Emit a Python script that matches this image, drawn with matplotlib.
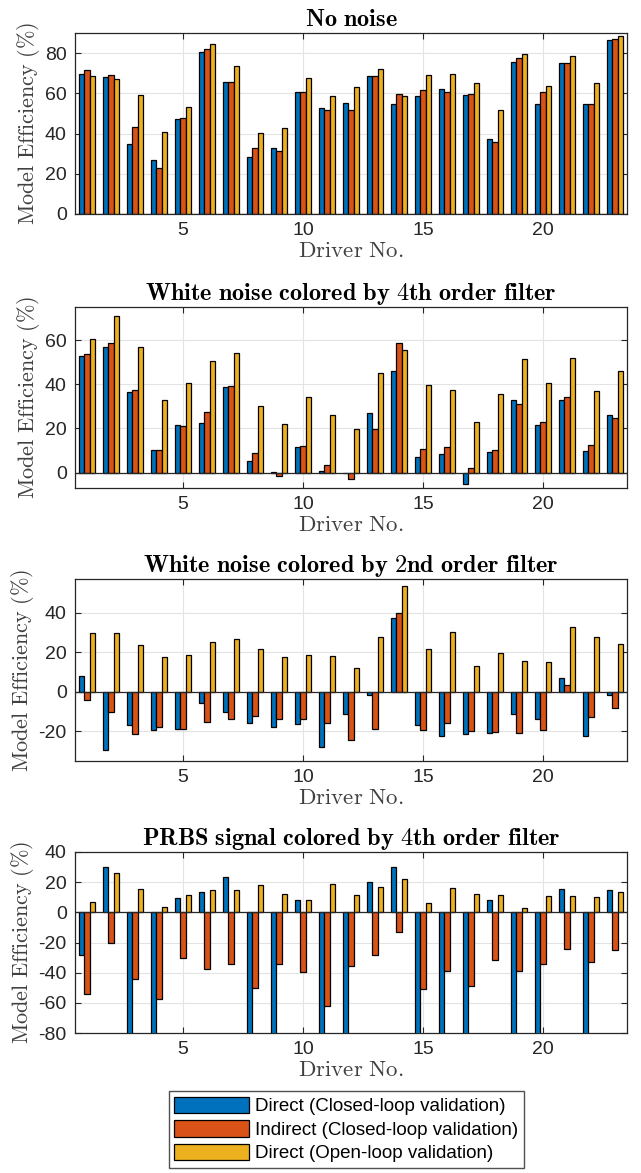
import numpy as np
import matplotlib
matplotlib.use("Agg")
import matplotlib.pyplot as plt

drivers = np.arange(1, 24)

titles = ["No noise",
          "White noise colored by 4th order filter",
          "White noise colored by 2nd order filter",
          "PRBS signal colored by 4th order filter"]

series_names = ["Direct (Closed-loop validation)",
                "Indirect (Closed-loop validation)",
                "Direct (Open-loop validation)"]

# no noise
nn_direct = [69.5, 68.0, 34.6, 26.7, 47.2, 80.5, 65.6, 28.1, 32.6, 60.6, 52.5, 55.0,
             68.4, 54.6, 58.8, 62.4, 59.4, 37.1, 75.7, 54.5, 75.3, 54.6, 86.4]
nn_indirect = [71.5, 69.0, 43.4, 22.8, 47.5, 82.0, 65.6, 32.6, 31.5, 60.6, 51.8, 51.5,
               68.5, 59.6, 61.8, 60.6, 59.9, 35.8, 77.5, 60.8, 75.3, 54.5, 86.9]
nn_open = [68.4, 66.9, 59.4, 40.6, 53.0, 84.4, 73.8, 40.1, 43.0, 67.4, 58.8, 63.1,
           72.0, 58.9, 69.0, 69.7, 65.2, 51.5, 79.8, 63.4, 78.5, 64.9, 88.7]

# white noise, 4th order filter
w4_direct = [52.8, 56.8, 36.6, 10.1, 21.6, 22.5, 38.7, 5.1, 0.3, 11.8, 0.6, -0.2,
             26.8, 46.1, 7.2, 8.3, -5.4, 9.3, 33.0, 21.6, 32.9, 9.6, 25.9]
w4_indirect = [53.5, 58.5, 37.5, 10.1, 21.1, 27.3, 39.2, 8.9, -1.5, 12.1, 3.3, -3.0,
               19.6, 58.6, 10.6, 11.5, 2.1, 10.3, 30.9, 22.8, 34.4, 12.7, 24.9]
w4_open = [60.3, 70.9, 57.0, 32.7, 40.7, 50.7, 54.1, 30.2, 21.9, 34.4, 26.1, 19.6,
           45.2, 55.3, 39.5, 37.2, 22.8, 35.4, 51.3, 40.7, 51.9, 36.8, 45.8]

# white noise, 2nd order filter
w2_direct = [7.9, -29.5, -17.0, -19.1, -18.6, -5.9, -10.0, -15.7, -17.9, -16.2, -27.7, -11.0,
             -1.4, 37.3, -17.0, -22.3, -21.6, -20.6, -11.0, -13.7, 6.9, -22.6, -1.4]
w2_indirect = [-4.4, -10.1, -21.4, -17.6, -18.6, -15.5, -14.0, -12.3, -14.0, -13.8, -15.9, -24.5,
               -18.7, 39.8, -19.2, -15.9, -19.7, -20.4, -20.6, -19.2, 3.2, -12.8, -8.3]
w2_open = [29.9, 29.9, 23.8, 17.4, 18.7, 25.3, 26.5, 21.8, 17.4, 18.4, 18.2, 11.8,
           27.8, 53.3, 21.4, 30.2, 12.8, 19.4, 15.4, 15.0, 32.7, 27.7, 24.3]

# PRBS, 4th order filter (values below -80 are off the axis)
pr_direct = [-28.1, 29.8, -100, -100, 9.5, 13.7, 23.6, -100, -100, 8.0, -100, -100,
             19.9, 30.3, -100, -100, -100, 8.4, -100, -100, 15.2, -100, 14.6]
pr_indirect = [-53.9, -20.6, -44.2, -57.7, -30.5, -37.8, -34.5, -49.9, -34.5, -39.3, -62.3, -35.8,
               -28.5, -12.8, -51.1, -38.7, -49.1, -31.4, -38.7, -34.5, -24.5, -33.1, -25.2]
pr_open = [6.9, 25.9, 15.2, 3.5, 11.3, 14.8, 14.8, 17.9, 11.9, 8.0, 18.8, 11.3,
           16.8, 22.1, 6.0, 16.1, 11.9, 11.3, 2.9, 10.8, 10.6, 9.9, 13.7]

panels = [(nn_direct, nn_indirect, nn_open),
          (w4_direct, w4_indirect, w4_open),
          (w2_direct, w2_indirect, w2_open),
          (pr_direct, pr_indirect, pr_open)]

ylims = [(0, 90), (-7, 75), (-35, 57), (-80, 40)]
yticks = [[0, 20, 40, 60, 80], [0, 20, 40, 60], [-20, 0, 20, 40],
          [-80, -60, -40, -20, 0, 20, 40]]

colors = ["#0072BD", "#D95319", "#EDB120"]
dark = "#262626"

plt.rcParams['mathtext.fontset'] = 'cm'
plt.rcParams['font.family'] = ['Liberation Sans', 'DejaVu Sans']
plt.rcParams['axes.unicode_minus'] = False

W, H = 641, 1173
fig = plt.figure(figsize=(W / 100, H / 100), dpi=100)

# axes boxes in pixels: (left, top, right, bottom)
boxes = [(75, 33, 627, 214), (75, 307, 627, 488), (75, 579, 627, 761), (75, 852, 627, 1033)]

width = 0.222
offsets = [-0.222, 0.0, 0.222]

for k, (data, box) in enumerate(zip(panels, boxes)):
    l, t, r, b = box
    ax = fig.add_axes([l / W, 1 - b / H, (r - l) / W, (b - t) / H])
    for vals, off, c, name in zip(data, offsets, colors, series_names):
        ax.bar(drivers + off, vals, width, color=c, edgecolor='black',
               linewidth=0.9, label=name, zorder=3)
    ax.axhline(0, color=dark, linewidth=0.9, zorder=4)
    ax.set_xlim(0.5, 23.5)
    ax.set_ylim(*ylims[k])
    ax.set_xticks([5, 10, 15, 20])
    ax.set_yticks(yticks[k])
    ax.grid(True, color='#e3e3e3', linewidth=0.8, zorder=0)
    ax.set_axisbelow(True)
    ax.tick_params(direction='in', top=True, right=True, labelsize=14,
                   colors=dark, length=4, pad=6)
    for s in ax.spines.values():
        s.set_color(dark)
        s.set_linewidth(0.9)
    ax.set_title(r'$\mathbf{' + titles[k].replace(' ', r'\ ') + '}$',
                 fontsize=17.5, pad=5)
    ax.set_xlabel(r'$\mathrm{Driver\ No.}$', fontsize=16.5, color='#404040', labelpad=0)
    ax.set_ylabel(r'$\mathrm{Model\ Efficiency\ (\%)}$', fontsize=16, color='#404040',
                  labelpad=2)

handles, labels = ax.get_legend_handles_labels()
fig.legend(handles, labels, loc='upper center', bbox_to_anchor=(0.54, 1 - 1091 / H),
           fontsize=13.5, frameon=True, fancybox=False, edgecolor=dark,
           handlelength=4.0, handleheight=1.0, borderpad=0.3, labelspacing=0.25,
           handletextpad=0.3, borderaxespad=0)

fig.savefig("out.png", dpi=100)
